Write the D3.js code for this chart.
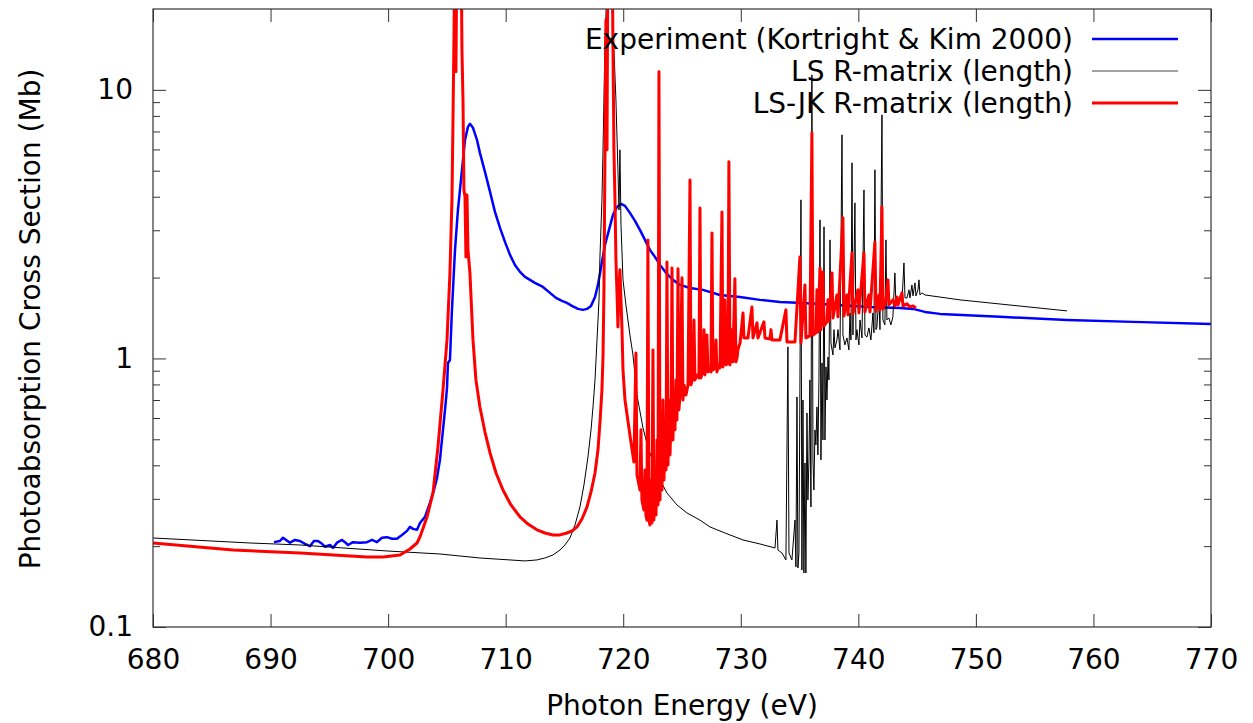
<!DOCTYPE html>
<html><head><meta charset="utf-8">
<script src="https://cdn.jsdelivr.net/npm/d3@7"></script>
<style>
body{margin:0;background:#fff;}
text{font-family:"DejaVu Sans",sans-serif;fill:#000;}
</style>
</head><body>
<svg id="chart" width="1253" height="723"></svg>
<script>
// ---------- data ----------
const xTickValues = [680, 690, 700, 710, 720, 730, 740, 750, 760, 770];
const yTickLabels = [0.1, 1, 10];
const seriesNames = ["Experiment (Kortright & Kim 2000)", "LS R-matrix (length)", "LS-JK R-matrix (length)"];
const xTitle = "Photon Energy (eV)";
const yTitle = "Photoabsorption Cross Section (Mb)";

// [photon energy (eV), cross section (Mb)]
const experiment = [[690.29,0.207],[690.80,0.209],[691.06,0.215],[691.65,0.206],[692.08,0.211],[692.50,0.209],[692.93,0.204],[693.35,0.200],[693.69,0.209],[694.03,0.209],
[694.38,0.204],[694.63,0.199],[695.06,0.202],[695.31,0.197],[695.65,0.206],[696.08,0.211],[696.33,0.207],[696.59,0.202],[697.01,0.207],[697.61,0.206],
[698.20,0.207],[698.63,0.211],[699.05,0.207],[699.48,0.215],[699.90,0.216],[700.33,0.213],[700.75,0.213],[701.18,0.220],[701.61,0.228],[701.86,0.236],
[702.12,0.232],[702.46,0.230],[702.71,0.244],[703.14,0.257],[703.56,0.290],[703.90,0.324],[704.16,0.359],[704.41,0.419],[704.58,0.497],[704.84,0.643],
[705.01,0.776],[705.09,0.962],[705.26,0.987],[705.43,1.516],[705.69,2.536],[705.94,3.573],[706.20,4.621],[706.54,6.513],[706.79,7.281],[706.96,7.471],
[707.22,7.219],[707.56,6.513],[707.81,5.826],[708.24,4.950],[708.67,4.170],[709.09,3.512],[709.52,3.062],[709.94,2.716],[710.37,2.429],[710.79,2.229],
[711.22,2.100],[711.64,2.012],[712.07,1.961],[712.49,1.911],[713.17,1.846],[713.77,1.754],[714.28,1.680],[714.79,1.637],[715.21,1.609],[715.64,1.569],
[716.15,1.529],[716.58,1.516],[716.92,1.529],[717.26,1.569],[717.60,1.694],[717.85,1.878],[718.19,2.287],[718.45,2.647],[718.79,3.010],[719.13,3.423],
[719.47,3.666],[719.81,3.762],[720.15,3.698],[720.57,3.482],[721.00,3.252],[721.42,3.010],[721.85,2.763],[722.27,2.536],[722.70,2.388],[723.13,2.229],
[723.72,2.064],[724.23,1.961],[724.83,1.878],[725.68,1.830],[726.78,1.800],[728.23,1.723],[729.93,1.694],[731.63,1.652],[733.33,1.623],[735.29,1.609],
[738.18,1.582],[740.99,1.555],[743.54,1.542],[744.65,1.529],[745.67,1.490],[746.94,1.465],[752.05,1.428],[757.75,1.391],[763.36,1.368],[770.0,1.344]];

const lsRMatrix = [[680.00,0.2145],[688.25,0.2055],[692.50,0.2020],[699.90,0.1919],[704.41,0.1870],[707.81,0.1807],[710.37,0.1777],[711.64,0.1762],[712.66,0.1777],[713.34,0.1807],
[714.02,0.1854],[714.62,0.1935],[715.04,0.2020],[715.47,0.2145],[715.90,0.2398],[716.32,0.2799],[716.66,0.3379],[717.00,0.4297],[717.26,0.5417],[717.43,0.6597],
[717.60,0.832],[717.77,1.172],[717.94,1.652],[718.02,2.388],[718.19,3.894],[718.28,5.98],[718.36,9.18],[718.45,15.4],[718.70,30],[719.04,21.6],
[719.21,14.1],[719.38,9.18],[719.55,5.04],[719.64,3.57],[719.72,5.98],[719.81,3.142],[719.98,1.961],[720.23,1.582],[720.57,1.223],[720.83,1.030],
[721.17,0.731],[721.68,0.551],[722.10,0.468],[722.53,0.4117],[723.13,0.353],[723.72,0.3155],[724.57,0.2848],[725.42,0.2659],[726.53,0.250],[727.38,0.2358],
[728.65,0.2239],[730.19,0.2109],[731.63,0.2038],[732.91,0.1969],[733.08,0.250],[733.16,0.1935],[733.50,0.1886],[733.84,0.1777],[734.01,1.104],[734.10,0.1886],
[734.35,0.1777],[734.61,0.250],[734.69,0.1674],[734.78,0.7187],[734.86,0.1659],[734.95,0.1886],[735.12,3.894],[735.20,0.163],[735.29,0.700],[735.37,0.1589],
[735.46,0.4082],[735.54,0.1589],[735.63,0.6266],[735.71,0.297],[735.80,0.419],[735.88,0.832],[735.97,0.2799],[736.05,11.37],[736.14,0.419],[736.22,0.3237],
[736.31,0.5417],[736.39,0.4763],[736.48,0.660],[736.56,0.4371],[736.65,0.832],[736.74,3.28],[736.82,0.419],[736.91,0.962],[736.99,0.497],[737.08,3.089],
[737.16,0.497],[737.25,0.9297],[737.33,0.700],[737.42,1.013],[737.50,0.832],[737.59,2.763],[737.67,1.142],[737.84,1.030],[737.93,1.28],[738.01,1.094],
[738.18,1.172],[738.27,1.28],[738.44,1.076],[738.61,6.80],[738.69,1.223],[738.86,1.123],[739.03,1.192],[739.20,1.076],[739.29,1.477],[739.37,1.172],
[739.46,5.35],[739.54,1.223],[739.71,3.795],[739.80,1.172],[739.88,1.28],[740.05,1.123],[740.14,1.391],[740.31,1.192],[740.48,4.24],[740.56,1.223],
[740.73,1.2],[740.90,1.299],[741.07,1.172],[741.24,1.477],[741.33,1.245],[741.41,5.04],[741.50,1.28],[741.58,1.310],[741.75,1.694],[741.84,1.28],
[742.01,8.07],[742.09,1.391],[742.26,1.333],[742.35,2.763],[742.43,1.391],[742.60,1.415],[742.77,1.333],[742.94,1.428],[743.11,2.082],[743.20,1.582],
[743.37,1.652],[743.54,1.694],[743.71,1.623],[743.88,2.268],[743.97,1.680],[744.14,1.680],[744.31,1.80],[744.39,1.680],[744.56,1.878],[744.65,1.709],
[744.82,1.911],[744.90,1.709],[745.07,1.80],[745.16,1.961],[745.24,1.723],[745.41,1.754],[745.67,1.723],[748.64,1.652],[757.75,1.503]];

const lsJkRMatrix = [[680.00,0.2055],[686.80,0.1935],[692.50,0.1886],[698.20,0.1823],[699.56,0.1823],[701.01,0.1854],[701.86,0.1952],[702.46,0.2055],[702.71,0.2164],[703.31,0.2569],
[703.82,0.3155],[704.24,0.468],[704.67,0.763],[705.01,1.172],[705.26,2.082],[705.43,3.894],[705.52,7.73],[705.60,15.4],[705.69,40],[705.77,11.67],
[705.86,40],[706.20,40],[706.28,14.1],[706.37,9.18],[706.45,4.24],[706.54,3.996],[706.62,2.388],[706.71,4.064],[706.79,2.54],[706.88,2.287],
[706.96,2.082],[707.22,1.172],[707.47,0.832],[707.81,0.6597],[708.24,0.532],[708.67,0.4446],[709.18,0.3746],[709.77,0.3237],[710.45,0.2848],[711.22,0.2569],
[711.90,0.2418],[712.66,0.230],[713.34,0.2239],[714.02,0.2202],[714.62,0.2202],[715.21,0.2239],[715.64,0.2278],[716.07,0.2358],[716.49,0.2525],[716.92,0.2799],
[717.26,0.3183],[717.60,0.3746],[717.85,0.456],[718.02,0.5751],[718.19,0.763],[718.28,1.013],[718.36,1.80],[718.45,5.98],[718.53,18.2],[718.62,5.98],
[718.70,40],[719.04,40],[719.13,14.1],[719.21,5.98],[719.30,3.894],[719.38,2.33],[719.47,1.754],[719.55,1.310],[719.64,1.80],[719.72,2.14],
[719.81,1.652],[719.89,1.310],[719.98,0.906],[720.15,0.700],[720.57,0.5188],[720.91,0.4117],[721.08,1.048],[721.17,0.3683],[721.26,0.353],[721.42,0.3237],
[721.51,0.542],[721.59,0.297],[721.76,0.273],[721.85,0.384],[721.93,0.2613],[722.02,0.250],[722.10,2.763],[722.19,0.250],[722.27,0.2398],[722.36,0.353],
[722.44,0.2440],[722.53,1.076],[722.61,0.250],[722.70,0.384],[722.79,0.2613],[722.87,0.497],[722.96,0.2848],[723.04,11.67],[723.13,0.297],[723.21,0.542],
[723.30,0.3237],[723.38,0.700],[723.47,0.353],[723.55,0.590],[723.64,0.384],[723.72,2.287],[723.81,0.4013],[723.89,0.700],[723.98,0.4371],[724.06,0.590],
[724.15,2.173],[724.23,0.497],[724.32,0.763],[724.40,0.542],[724.49,0.832],[724.57,0.590],[724.66,2.155],[724.74,0.643],[724.83,0.731],[725.00,1.995],
[725.08,0.700],[725.17,0.797],[725.34,0.731],[725.51,0.797],[725.68,4.62],[725.76,0.797],[725.93,0.846],[726.02,1.391],[726.10,0.832],[726.27,0.868],
[726.44,0.846],[726.53,3.635],[726.61,0.846],[726.78,0.906],[726.87,1.28],[726.95,0.868],[727.12,1.223],[727.21,0.891],[727.38,0.922],[727.46,0.891],
[727.55,2.934],[727.63,0.906],[727.80,0.922],[727.89,1.172],[727.97,0.891],[728.14,0.946],[728.23,0.922],[728.40,3.512],[728.48,0.930],[728.65,1.652],
[728.74,0.946],[728.91,0.962],[728.99,5.393],[729.08,0.946],[729.25,1.28],[729.33,0.971],[729.50,1.978],[729.59,0.971],[729.68,1.004],[729.76,1.076],
[729.85,1.113],[729.94,1.142],[730.19,1.477],[730.27,1.192],[730.61,1.192],[730.95,1.555],[731.04,1.192],[731.38,1.356],[731.46,1.192],[731.97,1.368],
[732.06,1.192],[732.48,1.182],[732.57,1.28],[732.65,1.172],[733.33,1.172],[733.84,1.516],[733.93,1.152],[734.61,1.152],[735.03,2.388],[735.12,1.142],
[735.46,1.878],[735.54,1.192],[735.88,1.213],[736.05,6.917],[736.14,1.223],[736.39,1.245],[736.48,1.80],[736.56,1.255],[736.74,2.173],[736.82,1.28],
[736.99,2.100],[737.08,1.321],[737.33,1.368],[737.42,1.652],[737.50,1.379],[737.76,2.082],[737.84,1.415],[738.18,1.723],[738.27,1.428],[738.69,3.337],
[738.78,1.440],[739.03,1.723],[739.12,1.452],[739.46,2.471],[739.54,1.465],[739.97,1.80],[740.05,1.477],[740.48,2.471],[740.56,1.490],[740.90,1.723],
[740.99,1.490],[741.41,2.716],[741.50,1.503],[741.75,1.723],[741.84,1.516],[742.01,3.666],[742.09,1.529],[742.35,1.652],[742.52,1.961],[742.60,1.582],
[742.94,1.652],[743.11,1.569],[743.29,1.694],[743.37,1.582],[743.71,1.754],[743.80,1.569],[744.14,1.596],[744.39,1.555],[744.65,1.569],[744.90,1.542]];

const seriesColors = ["#0000ff", "#000000", "#ff0000"];
const seriesWidths = [2.5, 1, 3];

// ---------- layout ----------
const plot = {left: 153, right: 1211, top: 9, bottom: 627};
const fontSize = 28;
const svg = d3.select("#chart");

const x = d3.scaleLinear().domain([680, 770]).range([plot.left, plot.right]);
const y = d3.scaleLog().domain([0.1, 20]).range([plot.bottom, plot.top]);

const allYTicks = y.ticks().filter(v => v > 0.1 - 1e-9 && v < 20 - 1e-9);
const isMajor = v => Math.abs(Math.log10(v) - Math.round(Math.log10(v))) < 1e-6;
const majorY = allYTicks.filter(isMajor);
const minorY = allYTicks.filter(v => !isMajor(v));

svg.append("defs").append("clipPath").attr("id", "clip")
  .append("rect").attr("x", plot.left).attr("y", plot.top)
  .attr("width", plot.right - plot.left).attr("height", plot.bottom - plot.top);

const tickStyle = g => { g.select(".domain").remove(); g.selectAll("line").attr("stroke", "#333").attr("stroke-width", 1); };
const labelStyle = g => g.selectAll("text").attr("font-size", fontSize).attr("font-family", "DejaVu Sans").attr("fill", "#000");

svg.append("g").attr("transform", `translate(0,${plot.bottom})`)
  .call(d3.axisBottom(x).tickValues(xTickValues).tickSizeInner(-13).tickSizeOuter(0).tickPadding(22).tickFormat(d3.format("d")))
  .call(tickStyle).call(labelStyle);

svg.append("g").attr("transform", `translate(0,${plot.top})`)
  .call(d3.axisTop(x).tickValues(xTickValues).tickSizeInner(-13).tickSizeOuter(0).tickFormat(""))
  .call(tickStyle);

svg.append("g").attr("transform", `translate(${plot.left},0)`)
  .call(d3.axisLeft(y).tickValues(yTickLabels).tickSizeInner(-13).tickSizeOuter(0).tickPadding(20).tickFormat(d => d3.format("~g")(d)))
  .call(tickStyle).call(labelStyle);

svg.append("g").attr("transform", `translate(${plot.left},0)`)
  .call(d3.axisLeft(y).tickValues(minorY).tickSizeInner(-7).tickSizeOuter(0).tickFormat(""))
  .call(tickStyle);

svg.append("g").attr("transform", `translate(${plot.right},0)`)
  .call(d3.axisRight(y).tickValues(majorY).tickSizeInner(-13).tickSizeOuter(0).tickFormat(""))
  .call(tickStyle);

svg.append("g").attr("transform", `translate(${plot.right},0)`)
  .call(d3.axisRight(y).tickValues(minorY).tickSizeInner(-7).tickSizeOuter(0).tickFormat(""))
  .call(tickStyle);

// series
const line = d3.line().x(d => x(d[0])).y(d => y(d[1]));
const seriesData = [experiment, lsRMatrix, lsJkRMatrix];
const gLines = svg.append("g").attr("clip-path", "url(#clip)");
seriesData.forEach((data, i) => {
  gLines.append("path").datum(data)
    .attr("d", line)
    .attr("fill", "none")
    .attr("stroke", seriesColors[i])
    .attr("stroke-width", seriesWidths[i])
    .attr("stroke-linejoin", "round");
});

// frame
svg.append("rect").attr("x", plot.left).attr("y", plot.top)
  .attr("width", plot.right - plot.left).attr("height", plot.bottom - plot.top)
  .attr("fill", "none").attr("stroke", "#333").attr("stroke-width", 1.2);

// legend
const legendRowY = d3.scalePoint().domain(seriesNames).range([39, 103]);
const legend = svg.append("g");
seriesNames.forEach((name, i) => {
  const yy = legendRowY(name);
  legend.append("text").attr("x", 1073).attr("y", yy).attr("dy", "0.36em")
    .attr("text-anchor", "end").attr("font-size", fontSize).text(name);
  legend.append("line").attr("x1", 1092).attr("x2", 1178).attr("y1", yy).attr("y2", yy)
    .attr("stroke", seriesColors[i] === "#000000" ? "#444" : seriesColors[i])
    .attr("stroke-width", seriesWidths[i]);
});

// axis titles
svg.append("text").attr("x", (plot.left + plot.right) / 2).attr("y", 715)
  .attr("text-anchor", "middle").attr("font-size", fontSize).text(xTitle);
svg.append("text").attr("transform", `translate(40,${(70 + 568) / 2}) rotate(-90)`)
  .attr("text-anchor", "middle").attr("font-size", fontSize).text(yTitle);
</script>
</body></html>
